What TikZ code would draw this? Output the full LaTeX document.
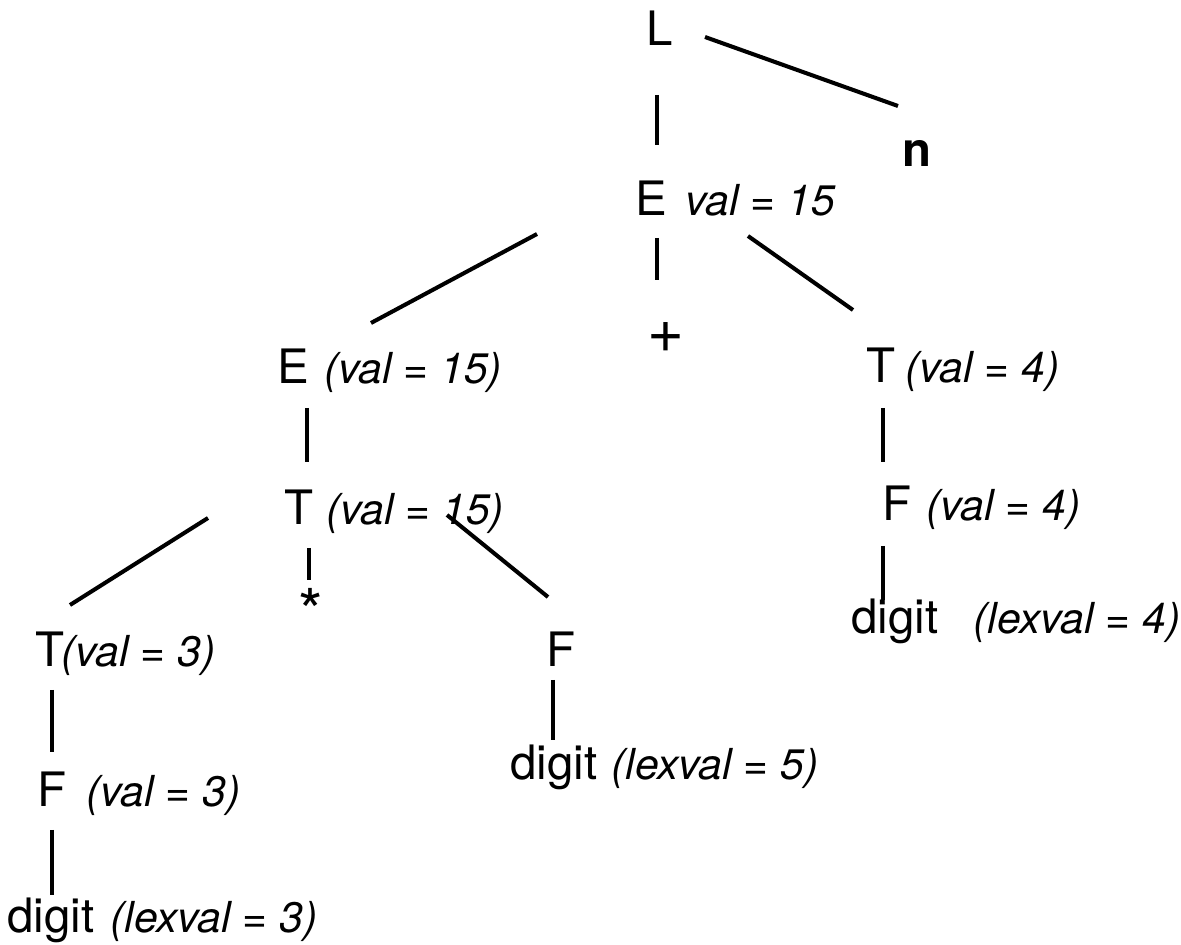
\documentclass[tikz,border=0pt]{standalone}
\usepackage{fontspec}
\setmainfont{TeX Gyre Heros}
\usepackage{tikz}

\begin{document}
\begin{tikzpicture}[
    x=0.02cm, y=-0.02cm,
    sym/.style={inner sep=0pt, anchor=base west, font=\fontsize{27}{32}\selectfont},
    attr/.style={inner sep=0pt, anchor=base west, font=\fontsize{24.3}{29}\selectfont\itshape},
    op/.style={inner sep=0pt, anchor=center, font=\fontsize{27}{32}\selectfont},
    edge/.style={draw=black, line width=2.3pt},
]
\useasboundingbox (0,0) rectangle (1181,945);

% Root
\node[sym] (L) at (646,46) {L};
\node[sym, font=\fontsize{27}{32}\selectfont\bfseries] (n) at (902,167) {n};

% E (val = 15)
\node[sym] (E0) at (635,216) {E};
\node[attr] (E0v) at (685,216) {val = 15};
\node[op, font=\fontsize{36}{40}\selectfont] (plus) at (666,338) {+};

% Level 2
\node[sym] (E1) at (277,384) {E};
\node[attr] (E1v) at (324,384) {(val = 15)};
\node[sym] (T4) at (866,383) {T};
\node[attr] (T4v) at (905,383) {(val = 4)};

% Level 3
\node[sym] (T1) at (284,525) {T};
\node[attr] (T1v) at (326,525) {(val = 15)};
\node[sym] (F4) at (882,521) {F};
\node[attr] (F4v) at (926,521) {(val = 4)};

% Level 4
\node[op, font=\fontsize{36}{40}\selectfont] (star) at (311,611) {*};
\node[sym] (T3) at (35,667) {T};
\node[attr] (T3v) at (61,667) {(val = 3)};
\node[sym] (F2) at (546,667) {F};
\node[sym] (d4) at (851,634) {digit};
\node[attr] (d4v) at (973,634) {(lexval = 4)};

% Leaves
\node[sym] (d5) at (510,780) {digit};
\node[attr] (d5v) at (611,780) {(lexval = 5)};
\node[sym] (F3) at (37,807) {F};
\node[attr] (F3v) at (86,807) {(val = 3)};
\node[sym] (d3) at (7,932) {digit};
\node[attr] (d3v) at (110,932) {(lexval = 3)};

% Edges from the root
\draw[edge] ([shift={(59,-9)}]L.base west) -- ([shift={(-4,-61)}]n.base west);
\draw[edge] ([shift={(11,49)}]L.base west) -- ([shift={(22,-71)}]E0.base west);

% Edges from E
\draw[edge] ([shift={(-98,18)}]E0.base west) -- ([shift={(94,-61)}]E1.base west);
\draw[edge] ([shift={(22,22)}]E0.base west) -- ([shift={(-9,-58)}]plus.center);
\draw[edge] ([shift={(113,20)}]E0.base west) -- ([shift={(-13,-73)}]T4.base west);

% Left subtree
\draw[edge] ([shift={(30,24)}]E1.base west) -- ([shift={(23,-63)}]T1.base west);
\draw[edge] ([shift={(-76,-7)}]T1.base west) -- ([shift={(35,-62)}]T3.base west);
\draw[edge] ([shift={(25,23)}]T1.base west) -- ([shift={(-2,-31)}]star.center);
\draw[edge] ([shift={(163,-10)}]T1.base west) -- ([shift={(2,-70)}]F2.base west);
\draw[edge] ([shift={(17,23)}]T3.base west) -- ([shift={(15,-55)}]F3.base west);
\draw[edge] ([shift={(15,23)}]F3.base west) -- ([shift={(45,-37)}]d3.base west);
\draw[edge] ([shift={(7,13)}]F2.base west) -- ([shift={(43,-40)}]d5.base west);

% Right subtree
\draw[edge] ([shift={(17,25)}]T4.base west) -- ([shift={(1,-59)}]F4.base west);
\draw[edge] ([shift={(1,25)}]F4.base west) -- ([shift={(32,-34)}]d4.base west);

\end{tikzpicture}
\end{document}
